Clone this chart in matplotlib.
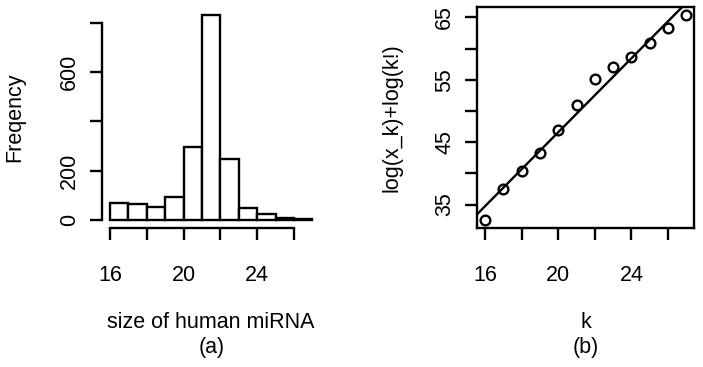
import numpy as np
import matplotlib
matplotlib.use("Agg")
import matplotlib.pyplot as plt

plt.rcParams['font.family'] = ['Liberation Sans', 'DejaVu Sans']
plt.rcParams['font.size'] = 15.5

# (a) histogram of human miRNA sizes, bins of width 1
bin_left = [16, 17, 18, 19, 20, 21, 22, 23, 24, 25, 26]
counts = [70, 65, 54, 93, 297, 831, 249, 47, 24, 9, 4]

# (b) log(x_k)+log(k!) vs k
k = [16, 17, 18, 19, 20, 21, 22, 23, 24, 25, 26, 27]
logval = [32.6, 37.56, 40.44, 43.26, 47.0, 51.0, 55.14, 57.1, 58.6, 60.95, 63.35, 65.3]

x_ticks = [16, 18, 20, 22, 24, 26]
x_labels = ['16', '', '20', '', '24', '']

W, H = 703, 367
fig = plt.figure(figsize=(W / 100, H / 100), dpi=100)

lw = 1.7
tick_kw = dict(length=8.6, width=lw, color='black')

# ---- (a) histogram ----
ax1 = fig.add_axes([101.9 / W, 1 - 228.2 / H, 218.6 / W, 221.2 / H])
ax1.bar(bin_left, counts, width=1, align='edge', facecolor='white',
        edgecolor='black', linewidth=lw)
ax1.set_xlim(15.56, 27.44)
ax1.set_ylim(-33.2, 864)
for s in ['top', 'right']:
    ax1.spines[s].set_visible(False)
for s in ['left', 'bottom']:
    ax1.spines[s].set_linewidth(lw)
ax1.spines['left'].set_bounds(0, 800)
ax1.spines['bottom'].set_bounds(16, 26)
ax1.set_yticks([0, 200, 400, 600, 800])
ax1.set_yticklabels(['0', '200', '', '600', ''])
ax1.set_xticks(x_ticks)
ax1.set_xticklabels(x_labels)
ax1.tick_params(axis='both', **tick_kw)
ax1.tick_params(axis='x', pad=18)
ax1.tick_params(axis='y', pad=7)
plt.setp(ax1.get_yticklabels(), rotation=90, va='center')
ax1.set_ylabel('Freqency')
ax1.yaxis.label.set(va='center', ha='center')
ax1.yaxis.set_label_coords((15 - 101.9) / 218.6, 0.5)

# ---- (b) scatter with fitted line ----
ax2 = fig.add_axes([477 / W, 1 - 227.7 / H, 217.3 / W, 220.4 / H])
ax2.plot(k, logval, 'o', markersize=7, markerfacecolor='none',
         markeredgecolor='black', markeredgewidth=lw)
slope, icpt = np.polyfit(k, logval, 1)
ax2.axline((0, icpt), slope=slope, color='black', linewidth=lw)
ax2.set_xlim(15.56, 27.44)
ax2.set_ylim(31.3, 66.6)
for s in ax2.spines.values():
    s.set_linewidth(lw)
ax2.set_yticks([35, 40, 45, 50, 55, 60, 65])
ax2.set_yticklabels(['35', '', '45', '', '55', '', '65'])
ax2.set_xticks(x_ticks)
ax2.set_xticklabels(x_labels)
ax2.tick_params(axis='both', **tick_kw)
ax2.tick_params(axis='x', pad=18)
ax2.tick_params(axis='y', pad=7)
plt.setp(ax2.get_yticklabels(), rotation=90, va='center')
ax2.set_ylabel('log(x_k)+log(k!)')
ax2.yaxis.label.set(va='center', ha='center')
ax2.yaxis.set_label_coords((392 - 477) / 217.3, 0.5)

# captions under each panel
for cx, name, tag in [(211.2, 'size of human miRNA', '(a)'), (585.6, 'k', '(b)')]:
    fig.text(cx / W, 1 - 323 / H, name, ha='center', va='center')
    fig.text(cx / W, 1 - 347 / H, tag, ha='center', va='center')

fig.savefig('out.png', dpi=100)
